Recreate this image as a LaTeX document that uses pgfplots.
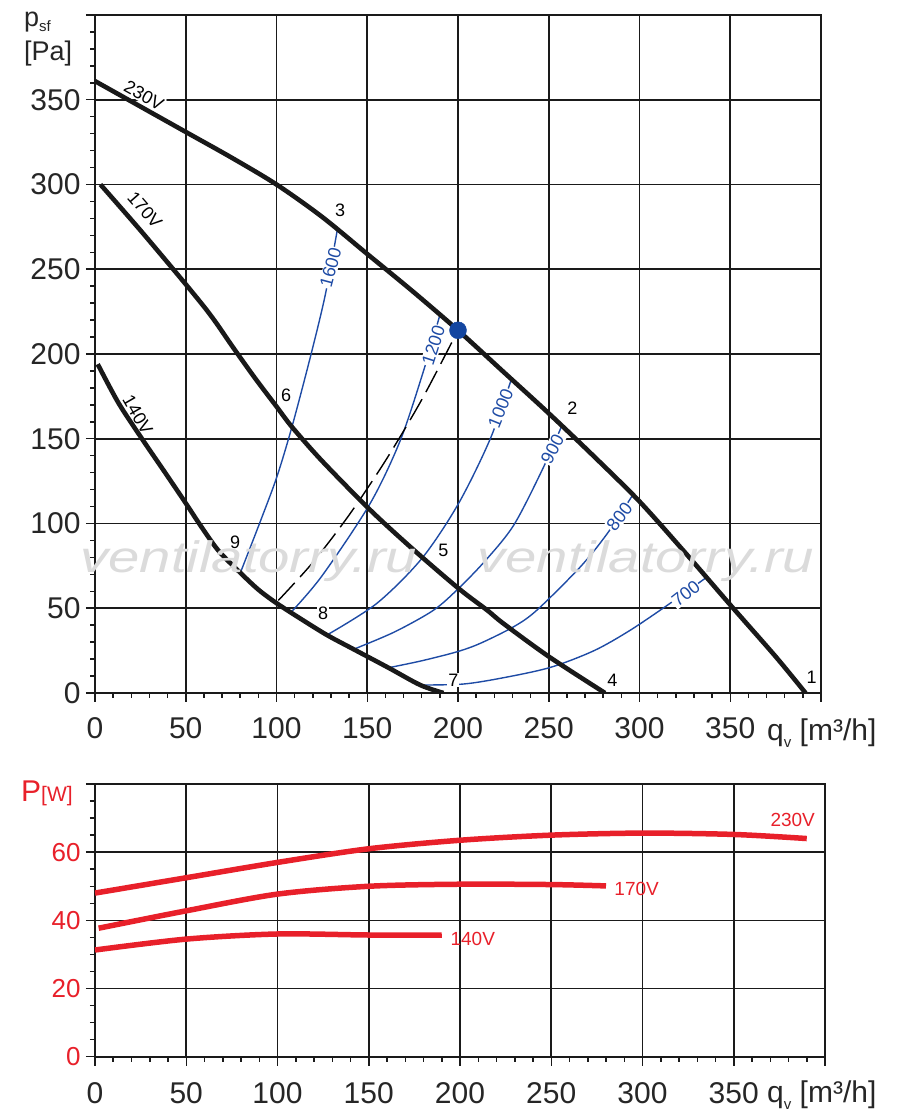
\documentclass[border=0pt]{standalone}
\usepackage{fontspec}
\setmainfont{Liberation Sans}
\usepackage{pgfplots}
\pgfplotsset{compat=1.18}
\definecolor{rpmblue}{HTML}{1E4BA5}
\definecolor{dotblue}{HTML}{1446A0}
\definecolor{pred}{HTML}{E8202A}
\definecolor{gridc}{HTML}{1A1A1A}
\newcommand{\lab}{\fontsize{18}{20}\selectfont}
\begin{document}
\begin{tikzpicture}[x=1pt,y=1pt]
\path[use as bounding box] (0,0) rectangle (900,1117);
% ---------------- top chart ----------------
\begin{axis}[
  at={(95pt,424pt)}, anchor=south west,
  scale only axis, width=726pt, height=678pt,
  xmin=0, xmax=400, ymin=0, ymax=400,
  xtick={0,50,...,400}, ytick={0,50,...,400},
  xticklabels={0,50,100,150,200,250,300,350,},
  yticklabels={0,50,100,150,200,250,300,350,},
  minor x tick num=4, minor y tick num=4,
  tick align=outside, tick pos=left,
  major tick length=9pt, minor tick length=5pt,
  every tick/.style={gridc, line width=1.5pt},
  grid=major, major grid style={gridc, line width=1.7pt},
  axis line style={gridc, line width=1.8pt},
  tick label style={font=\fontsize{30}{30}\selectfont, text=black!85},
  xticklabel shift=12pt, yticklabel shift=2pt,
  /pgf/number format/assume math mode=true,
  clip mode=individual,
]
% RPM lines
\addplot[rpmblue, line width=1.4pt, smooth] coordinates {(80.3,71.5)(91,101)(100.2,127.5)(108.5,157)(118.6,198)(126.8,234.5)(133.6,273.8)};
\addplot[rpmblue, line width=1.4pt, smooth] coordinates {(107.5,47)(125,69)(151.6,111.8)(168.2,149)(181,190)(190.2,223.7)};
\addplot[rpmblue, line width=1.4pt, smooth] coordinates {(127.8,34.2)(155.3,52.9)(180.1,79.4)(200.3,111.8)(217.8,150)(229.8,186.4)};
\addplot[rpmblue, line width=1.4pt, smooth] coordinates {(142.5,25.8)(165,36)(186.6,48.9)(200.3,61.7)(215,78)(230.7,99)(246.3,131.4)(257.3,157.9)};
\addplot[rpmblue, line width=1.4pt, smooth] coordinates {(161.7,14.9)(180,19)(199.4,24.3)(212.3,29.3)(230.7,39.1)(243.5,48.9)(267.4,74.4)(282.2,94)(296.8,117.7)};
\addplot[rpmblue, line width=1.4pt, smooth] coordinates {(179.2,4.7)(203.1,5.3)(225,9)(250.9,15.1)(275,25)(295,37.1)(317,53)(337.3,68.5)};
% system curve
\addplot[black, line width=1.4pt, dash pattern=on 24pt off 8pt, smooth] coordinates {(101,54.6)(120,77)(140,105)(160,137)(180,173)(200,214)};
% fan curves
\addplot[black!90, line width=4.6pt, smooth] coordinates {(0,361)(25,346)(50,331)(75,316)(100,300)(125,281)(150,259)(175,237)(200,214)(225,189.5)(250,165)(275,139.5)(300,113)(325,83)(350,52)(375,21.5)(391.5,0)};
\addplot[black!90, line width=4.6pt, smooth] coordinates {(3,300)(25,273)(47,245)(60,228)(67,218)(76,204)(88,186)(100,169)(108.5,157)(125,137)(151.6,108)(175,85)(200.3,61.7)(216,48.9)(225,41)(250,21.5)(281,0)};
\addplot[black!90, line width=4.6pt, smooth] coordinates {(1.5,194)(13,171)(26.5,149)(38,131)(50,112)(58,99)(68,84)(80,71)(90,61)(100,53)(113,44)(127.8,34.2)(142.5,25.8)(161.7,14.9)(179.2,4.7)(192,0)};
% operating point
\addplot[only marks, mark=*, mark size=8.5pt, dotblue] coordinates {(200,214)};
% rpm labels
\begin{scope}[every node/.style={font=\lab, text=rpmblue, fill=white, inner sep=1pt}]
\node[rotate=75] at (axis cs:129.8,251) {1600};
\node[rotate=72] at (axis cs:186.5,205) {1200};
\node[rotate=68] at (axis cs:223.5,168) {1000};
\node[rotate=62] at (axis cs:252,144) {900};
\node[rotate=52] at (axis cs:289,104) {800};
\node[rotate=38] at (axis cs:325.5,58.5) {700};
\end{scope}
% curve labels
\begin{scope}[every node/.style={font=\lab, text=black, inner sep=1pt}]
\node[rotate=-29, fill=white] at (axis cs:27,352.5) {230V};
\node[rotate=-49] at (axis cs:27.5,285) {170V};
\node[rotate=-60] at (axis cs:23.5,164) {140V};
\node at (axis cs:394.8,9.4) {1};
\node at (axis cs:263,168) {2};
\node at (axis cs:135.1,284.6) {3};
\node at (axis cs:285,7.7) {4};
\node at (axis cs:191.9,84.3) {5};
\node at (axis cs:105.3,175.6) {6};
\node[fill=white] at (axis cs:197.4,7.7) {7};
\node[fill=white] at (axis cs:125.7,47.1) {8};
\node at (axis cs:77.2,89) {9};
\end{scope}
\end{axis}
% ---------------- bottom chart ----------------
\begin{axis}[
  at={(95pt,60.3pt)}, anchor=south west,
  scale only axis, width=730pt, height=272.7pt,
  xmin=0, xmax=400, ymin=0, ymax=80,
  xtick={0,50,...,400}, ytick={0,20,...,80},
  xticklabels={0,50,100,150,200,250,300,350,},
  yticklabels={0,20,40,60,},
  minor x tick num=4, minor y tick num=3,
  tick align=outside, tick pos=left,
  major tick length=9pt, minor tick length=5pt,
  every tick/.style={gridc, line width=1.5pt},
  grid=major, major grid style={gridc, line width=1.7pt},
  axis line style={gridc, line width=1.8pt},
  x tick label style={font=\fontsize{30}{30}\selectfont, text=black!85},
  y tick label style={font=\fontsize{26}{26}\selectfont, text=pred},
  xticklabel shift=13pt, yticklabel shift=2pt,
  /pgf/number format/assume math mode=true,
  clip mode=individual,
]
\addplot[pred, line width=5.5pt, smooth] coordinates {(0,48)(50,52.5)(100,57)(150,61)(200,63.5)(250,65)(300,65.6)(350,65.2)(390,64)};
\addplot[pred, line width=5.5pt, smooth] coordinates {(2,37.7)(50,42.8)(100,47.7)(150,50)(200,50.6)(250,50.5)(280,50.1)};
\addplot[pred, line width=5.5pt, smooth] coordinates {(0,31.3)(50,34.5)(100,36)(150,35.7)(190,35.7)};
\begin{scope}[every node/.style={font=\fontsize{19}{20}\selectfont, text=pred, inner sep=1pt}]
\node[fill=white] at (axis cs:382.3,69.5) {230V};
\node at (axis cs:296.8,49.2) {170V};
\node at (axis cs:207,34.6) {140V};
\end{scope}
\end{axis}
% ---------------- axis titles ----------------
\node[anchor=base west, inner sep=0pt, font=\fontsize{27}{27}\selectfont, text=black!85] at (24,1090) {p\raisebox{-5pt}{\fontsize{15}{15}\selectfont sf}};
\node[anchor=base west, inner sep=0pt, font=\fontsize{27}{27}\selectfont, text=black!85] at (24,1056) {[Pa]};
\node[anchor=base west, inner sep=0pt, text=black!85] at (767,376) {\fontsize{30}{30}\selectfont q\raisebox{-7pt}{\fontsize{15}{15}\selectfont v} [m³/h]};
\node[anchor=base west, inner sep=0pt, text=black!85] at (767,15) {\fontsize{30}{30}\selectfont q\raisebox{-7pt}{\fontsize{15}{15}\selectfont v} [m³/h]};
\node[anchor=base west, inner sep=0pt, text=pred] at (21,315) {\fontsize{30}{30}\selectfont P\fontsize{21}{21}\selectfont[W]};
% watermark
\node[anchor=base west, inner sep=0pt, text=black!14, xscale=1.28, font=\fontsize{44}{44}\selectfont\itshape] at (80,544) {ventilatorry.ru};
\node[anchor=base west, inner sep=0pt, text=black!14, xscale=1.28, font=\fontsize{44}{44}\selectfont\itshape] at (477,544) {ventilatorry.ru};
\end{tikzpicture}
\end{document}
